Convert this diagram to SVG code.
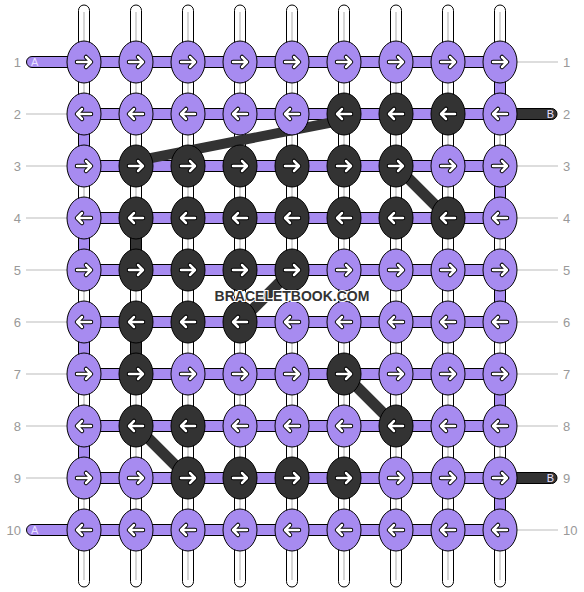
<svg xmlns="http://www.w3.org/2000/svg" xmlns:xlink="http://www.w3.org/1999/xlink" width="584" height="592" viewBox="0 0 584 592">
<style>
.thr{fill:#fff;stroke:#000;stroke-width:1}
.mid{stroke:#c8c8c8;stroke-width:1.5}
.p{fill:#A78BF0;stroke:#000;stroke-width:1}
.d{fill:#333;stroke:#000;stroke-width:1}
.hc{fill:#A78BF0;stroke:#000;stroke-width:1}
.diag{stroke:#333;stroke-width:11;stroke-linecap:butt}
.lbl{font-family:"Liberation Sans",Arial,sans-serif;font-size:13px;fill:#999}
.ln{stroke:#bbb;stroke-width:1}
.tl{font-family:"Liberation Sans",Arial,sans-serif;font-size:11px;fill:#e8e0ff}
.wm{font-family:"Liberation Sans",Arial,sans-serif;font-size:14px;font-weight:bold;fill:#333;stroke:#fff;stroke-width:2;paint-order:stroke;text-anchor:middle}
</style>
<defs>
<g id="R"><path d="M-7,0H6M2,-5L7,0L2,5" fill="none" stroke="#000" stroke-width="4.5" stroke-linecap="round" stroke-linejoin="round"/><path d="M-7,0H6M2,-5L7,0L2,5" fill="none" stroke="#fff" stroke-width="2.5" stroke-linecap="round" stroke-linejoin="round"/></g>
<g id="L"><use href="#R" transform="scale(-1,1)"/></g>
</defs>
<g id="threads">
<rect class="thr" x="78.5" y="5" width="11" height="582" rx="5.5"/><line class="mid" x1="84" y1="12" x2="84" y2="580"/>
<rect class="thr" x="130.5" y="5" width="11" height="582" rx="5.5"/><line class="mid" x1="136" y1="12" x2="136" y2="580"/>
<rect class="thr" x="182.5" y="5" width="11" height="582" rx="5.5"/><line class="mid" x1="188" y1="12" x2="188" y2="580"/>
<rect class="thr" x="234.5" y="5" width="11" height="582" rx="5.5"/><line class="mid" x1="240" y1="12" x2="240" y2="580"/>
<rect class="thr" x="286.5" y="5" width="11" height="582" rx="5.5"/><line class="mid" x1="292" y1="12" x2="292" y2="580"/>
<rect class="thr" x="338.5" y="5" width="11" height="582" rx="5.5"/><line class="mid" x1="344" y1="12" x2="344" y2="580"/>
<rect class="thr" x="390.5" y="5" width="11" height="582" rx="5.5"/><line class="mid" x1="396" y1="12" x2="396" y2="580"/>
<rect class="thr" x="442.5" y="5" width="11" height="582" rx="5.5"/><line class="mid" x1="448" y1="12" x2="448" y2="580"/>
<rect class="thr" x="494.5" y="5" width="11" height="582" rx="5.5"/><line class="mid" x1="500" y1="12" x2="500" y2="580"/>
</g>
<g id="labels">
<text class="lbl" x="21" y="66.5" text-anchor="end">1</text>
<text class="lbl" x="21" y="118.5" text-anchor="end">2</text>
<text class="lbl" x="21" y="170.5" text-anchor="end">3</text>
<text class="lbl" x="21" y="222.5" text-anchor="end">4</text>
<text class="lbl" x="21" y="274.5" text-anchor="end">5</text>
<text class="lbl" x="21" y="326.5" text-anchor="end">6</text>
<text class="lbl" x="21" y="378.5" text-anchor="end">7</text>
<text class="lbl" x="21" y="430.5" text-anchor="end">8</text>
<text class="lbl" x="21" y="482.5" text-anchor="end">9</text>
<text class="lbl" x="21" y="534.5" text-anchor="end">10</text>
<text class="lbl" x="563" y="66.5">1</text>
<text class="lbl" x="563" y="118.5">2</text>
<text class="lbl" x="563" y="170.5">3</text>
<text class="lbl" x="563" y="222.5">4</text>
<text class="lbl" x="563" y="274.5">5</text>
<text class="lbl" x="563" y="326.5">6</text>
<text class="lbl" x="563" y="378.5">7</text>
<text class="lbl" x="563" y="430.5">8</text>
<text class="lbl" x="563" y="482.5">9</text>
<text class="lbl" x="563" y="534.5">10</text>
<line class="ln" x1="26" y1="114" x2="67" y2="114"/>
<line class="ln" x1="26" y1="166" x2="67" y2="166"/>
<line class="ln" x1="26" y1="218" x2="67" y2="218"/>
<line class="ln" x1="26" y1="270" x2="67" y2="270"/>
<line class="ln" x1="26" y1="322" x2="67" y2="322"/>
<line class="ln" x1="26" y1="374" x2="67" y2="374"/>
<line class="ln" x1="26" y1="426" x2="67" y2="426"/>
<line class="ln" x1="26" y1="478" x2="67" y2="478"/>
<line class="ln" x1="517" y1="62" x2="558" y2="62"/>
<line class="ln" x1="517" y1="166" x2="558" y2="166"/>
<line class="ln" x1="517" y1="218" x2="558" y2="218"/>
<line class="ln" x1="517" y1="270" x2="558" y2="270"/>
<line class="ln" x1="517" y1="322" x2="558" y2="322"/>
<line class="ln" x1="517" y1="374" x2="558" y2="374"/>
<line class="ln" x1="517" y1="426" x2="558" y2="426"/>
<line class="ln" x1="517" y1="530" x2="558" y2="530"/>
</g>
<g id="connectors">
<rect class="p" x="78.5" y="132" width="11" height="16"/>
<rect class="p" x="78.5" y="236" width="11" height="16"/>
<rect class="p" x="78.5" y="340" width="11" height="16"/>
<rect class="p" x="78.5" y="444" width="11" height="16"/>
<rect class="p" x="494.5" y="80" width="11" height="16"/>
<rect class="p" x="494.5" y="184" width="11" height="16"/>
<rect class="p" x="494.5" y="288" width="11" height="16"/>
<rect class="p" x="494.5" y="392" width="11" height="16"/>
<rect class="p" x="494.5" y="496" width="11" height="16"/>
<rect class="d" x="130.5" y="236" width="11" height="16"/>
<rect class="d" x="130.5" y="340" width="11" height="16"/>
<rect class="d" x="480" y="108.5" width="77" height="11" rx="5.5"/>
<rect class="d" x="480" y="472.5" width="77" height="11" rx="5.5"/>
<rect class="hc" x="26.5" y="56.5" width="480" height="11" rx="5.5"/>
<rect class="hc" x="84" y="108.5" width="416" height="11"/>
<rect class="hc" x="84" y="160.5" width="416" height="11"/>
<rect class="hc" x="84" y="212.5" width="416" height="11"/>
<rect class="hc" x="84" y="264.5" width="416" height="11"/>
<rect class="hc" x="84" y="316.5" width="416" height="11"/>
<rect class="hc" x="84" y="368.5" width="416" height="11"/>
<rect class="hc" x="84" y="420.5" width="416" height="11"/>
<rect class="hc" x="84" y="472.5" width="416" height="11"/>
<rect class="hc" x="26.5" y="524.5" width="480" height="11" rx="5.5"/>
<text class="tl" x="31" y="66">A</text>
<text class="tl" x="31" y="534">A</text>
<text class="tl" x="554" y="118" text-anchor="end">B</text>
<text class="tl" x="554" y="482" text-anchor="end">B</text>
<line class="diag" style="stroke-width:10" x1="136" y1="161" x2="344" y2="120"/>
<line class="diag" x1="396" y1="166" x2="448" y2="218"/>
<line class="diag" x1="292" y1="270" x2="240" y2="322"/>
<line class="diag" x1="344" y1="374" x2="396" y2="426"/>
<line class="diag" x1="136" y1="426" x2="188" y2="478"/>
</g>
<g id="knots">
<g id="k1_1" transform="translate(84,62)"><ellipse class="p" rx="17" ry="21"/><use href="#R"/></g>
<g id="k1_2" transform="translate(136,62)"><ellipse class="p" rx="17" ry="21"/><use href="#R"/></g>
<g id="k1_3" transform="translate(188,62)"><ellipse class="p" rx="17" ry="21"/><use href="#R"/></g>
<g id="k1_4" transform="translate(240,62)"><ellipse class="p" rx="17" ry="21"/><use href="#R"/></g>
<g id="k1_5" transform="translate(292,62)"><ellipse class="p" rx="17" ry="21"/><use href="#R"/></g>
<g id="k1_6" transform="translate(344,62)"><ellipse class="p" rx="17" ry="21"/><use href="#R"/></g>
<g id="k1_7" transform="translate(396,62)"><ellipse class="p" rx="17" ry="21"/><use href="#R"/></g>
<g id="k1_8" transform="translate(448,62)"><ellipse class="p" rx="17" ry="21"/><use href="#R"/></g>
<g id="k1_9" transform="translate(500,62)"><ellipse class="p" rx="17" ry="21"/><use href="#R"/></g>
<g id="k2_1" transform="translate(84,114)"><ellipse class="p" rx="17" ry="21"/><use href="#L"/></g>
<g id="k2_2" transform="translate(136,114)"><ellipse class="p" rx="17" ry="21"/><use href="#L"/></g>
<g id="k2_3" transform="translate(188,114)"><ellipse class="p" rx="17" ry="21"/><use href="#L"/></g>
<g id="k2_4" transform="translate(240,114)"><ellipse class="p" rx="17" ry="21"/><use href="#L"/></g>
<g id="k2_5" transform="translate(292,114)"><ellipse class="p" rx="17" ry="21"/><use href="#L"/></g>
<g id="k2_6" transform="translate(344,114)"><ellipse class="d" rx="17" ry="21"/><use href="#L"/></g>
<g id="k2_7" transform="translate(396,114)"><ellipse class="d" rx="17" ry="21"/><use href="#L"/></g>
<g id="k2_8" transform="translate(448,114)"><ellipse class="d" rx="17" ry="21"/><use href="#L"/></g>
<g id="k2_9" transform="translate(500,114)"><ellipse class="p" rx="17" ry="21"/><use href="#L"/></g>
<g id="k3_1" transform="translate(84,166)"><ellipse class="p" rx="17" ry="21"/><use href="#R"/></g>
<g id="k3_2" transform="translate(136,166)"><ellipse class="d" rx="17" ry="21"/><use href="#R"/></g>
<g id="k3_3" transform="translate(188,166)"><ellipse class="d" rx="17" ry="21"/><use href="#R"/></g>
<g id="k3_4" transform="translate(240,166)"><ellipse class="d" rx="17" ry="21"/><use href="#R"/></g>
<g id="k3_5" transform="translate(292,166)"><ellipse class="d" rx="17" ry="21"/><use href="#R"/></g>
<g id="k3_6" transform="translate(344,166)"><ellipse class="d" rx="17" ry="21"/><use href="#R"/></g>
<g id="k3_7" transform="translate(396,166)"><ellipse class="d" rx="17" ry="21"/><use href="#R"/></g>
<g id="k3_8" transform="translate(448,166)"><ellipse class="p" rx="17" ry="21"/><use href="#R"/></g>
<g id="k3_9" transform="translate(500,166)"><ellipse class="p" rx="17" ry="21"/><use href="#R"/></g>
<g id="k4_1" transform="translate(84,218)"><ellipse class="p" rx="17" ry="21"/><use href="#L"/></g>
<g id="k4_2" transform="translate(136,218)"><ellipse class="d" rx="17" ry="21"/><use href="#L"/></g>
<g id="k4_3" transform="translate(188,218)"><ellipse class="d" rx="17" ry="21"/><use href="#L"/></g>
<g id="k4_4" transform="translate(240,218)"><ellipse class="d" rx="17" ry="21"/><use href="#L"/></g>
<g id="k4_5" transform="translate(292,218)"><ellipse class="d" rx="17" ry="21"/><use href="#L"/></g>
<g id="k4_6" transform="translate(344,218)"><ellipse class="d" rx="17" ry="21"/><use href="#L"/></g>
<g id="k4_7" transform="translate(396,218)"><ellipse class="d" rx="17" ry="21"/><use href="#L"/></g>
<g id="k4_8" transform="translate(448,218)"><ellipse class="d" rx="17" ry="21"/><use href="#L"/></g>
<g id="k4_9" transform="translate(500,218)"><ellipse class="p" rx="17" ry="21"/><use href="#L"/></g>
<g id="k5_1" transform="translate(84,270)"><ellipse class="p" rx="17" ry="21"/><use href="#R"/></g>
<g id="k5_2" transform="translate(136,270)"><ellipse class="d" rx="17" ry="21"/><use href="#R"/></g>
<g id="k5_3" transform="translate(188,270)"><ellipse class="d" rx="17" ry="21"/><use href="#R"/></g>
<g id="k5_4" transform="translate(240,270)"><ellipse class="d" rx="17" ry="21"/><use href="#R"/></g>
<g id="k5_5" transform="translate(292,270)"><ellipse class="d" rx="17" ry="21"/><use href="#R"/></g>
<g id="k5_6" transform="translate(344,270)"><ellipse class="p" rx="17" ry="21"/><use href="#R"/></g>
<g id="k5_7" transform="translate(396,270)"><ellipse class="p" rx="17" ry="21"/><use href="#R"/></g>
<g id="k5_8" transform="translate(448,270)"><ellipse class="p" rx="17" ry="21"/><use href="#R"/></g>
<g id="k5_9" transform="translate(500,270)"><ellipse class="p" rx="17" ry="21"/><use href="#R"/></g>
<g id="k6_1" transform="translate(84,322)"><ellipse class="p" rx="17" ry="21"/><use href="#L"/></g>
<g id="k6_2" transform="translate(136,322)"><ellipse class="d" rx="17" ry="21"/><use href="#L"/></g>
<g id="k6_3" transform="translate(188,322)"><ellipse class="d" rx="17" ry="21"/><use href="#L"/></g>
<g id="k6_4" transform="translate(240,322)"><ellipse class="d" rx="17" ry="21"/><use href="#L"/></g>
<g id="k6_5" transform="translate(292,322)"><ellipse class="p" rx="17" ry="21"/><use href="#L"/></g>
<g id="k6_6" transform="translate(344,322)"><ellipse class="p" rx="17" ry="21"/><use href="#L"/></g>
<g id="k6_7" transform="translate(396,322)"><ellipse class="p" rx="17" ry="21"/><use href="#L"/></g>
<g id="k6_8" transform="translate(448,322)"><ellipse class="p" rx="17" ry="21"/><use href="#L"/></g>
<g id="k6_9" transform="translate(500,322)"><ellipse class="p" rx="17" ry="21"/><use href="#L"/></g>
<g id="k7_1" transform="translate(84,374)"><ellipse class="p" rx="17" ry="21"/><use href="#R"/></g>
<g id="k7_2" transform="translate(136,374)"><ellipse class="d" rx="17" ry="21"/><use href="#R"/></g>
<g id="k7_3" transform="translate(188,374)"><ellipse class="p" rx="17" ry="21"/><use href="#R"/></g>
<g id="k7_4" transform="translate(240,374)"><ellipse class="p" rx="17" ry="21"/><use href="#R"/></g>
<g id="k7_5" transform="translate(292,374)"><ellipse class="p" rx="17" ry="21"/><use href="#R"/></g>
<g id="k7_6" transform="translate(344,374)"><ellipse class="d" rx="17" ry="21"/><use href="#R"/></g>
<g id="k7_7" transform="translate(396,374)"><ellipse class="p" rx="17" ry="21"/><use href="#R"/></g>
<g id="k7_8" transform="translate(448,374)"><ellipse class="p" rx="17" ry="21"/><use href="#R"/></g>
<g id="k7_9" transform="translate(500,374)"><ellipse class="p" rx="17" ry="21"/><use href="#R"/></g>
<g id="k8_1" transform="translate(84,426)"><ellipse class="p" rx="17" ry="21"/><use href="#L"/></g>
<g id="k8_2" transform="translate(136,426)"><ellipse class="d" rx="17" ry="21"/><use href="#L"/></g>
<g id="k8_3" transform="translate(188,426)"><ellipse class="d" rx="17" ry="21"/><use href="#L"/></g>
<g id="k8_4" transform="translate(240,426)"><ellipse class="p" rx="17" ry="21"/><use href="#L"/></g>
<g id="k8_5" transform="translate(292,426)"><ellipse class="p" rx="17" ry="21"/><use href="#L"/></g>
<g id="k8_6" transform="translate(344,426)"><ellipse class="p" rx="17" ry="21"/><use href="#L"/></g>
<g id="k8_7" transform="translate(396,426)"><ellipse class="d" rx="17" ry="21"/><use href="#L"/></g>
<g id="k8_8" transform="translate(448,426)"><ellipse class="p" rx="17" ry="21"/><use href="#L"/></g>
<g id="k8_9" transform="translate(500,426)"><ellipse class="p" rx="17" ry="21"/><use href="#L"/></g>
<g id="k9_1" transform="translate(84,478)"><ellipse class="p" rx="17" ry="21"/><use href="#R"/></g>
<g id="k9_2" transform="translate(136,478)"><ellipse class="p" rx="17" ry="21"/><use href="#R"/></g>
<g id="k9_3" transform="translate(188,478)"><ellipse class="d" rx="17" ry="21"/><use href="#R"/></g>
<g id="k9_4" transform="translate(240,478)"><ellipse class="d" rx="17" ry="21"/><use href="#R"/></g>
<g id="k9_5" transform="translate(292,478)"><ellipse class="d" rx="17" ry="21"/><use href="#R"/></g>
<g id="k9_6" transform="translate(344,478)"><ellipse class="d" rx="17" ry="21"/><use href="#R"/></g>
<g id="k9_7" transform="translate(396,478)"><ellipse class="p" rx="17" ry="21"/><use href="#R"/></g>
<g id="k9_8" transform="translate(448,478)"><ellipse class="p" rx="17" ry="21"/><use href="#R"/></g>
<g id="k9_9" transform="translate(500,478)"><ellipse class="p" rx="17" ry="21"/><use href="#R"/></g>
<g id="k10_1" transform="translate(84,530)"><ellipse class="p" rx="17" ry="21"/><use href="#L"/></g>
<g id="k10_2" transform="translate(136,530)"><ellipse class="p" rx="17" ry="21"/><use href="#L"/></g>
<g id="k10_3" transform="translate(188,530)"><ellipse class="p" rx="17" ry="21"/><use href="#L"/></g>
<g id="k10_4" transform="translate(240,530)"><ellipse class="p" rx="17" ry="21"/><use href="#L"/></g>
<g id="k10_5" transform="translate(292,530)"><ellipse class="p" rx="17" ry="21"/><use href="#L"/></g>
<g id="k10_6" transform="translate(344,530)"><ellipse class="p" rx="17" ry="21"/><use href="#L"/></g>
<g id="k10_7" transform="translate(396,530)"><ellipse class="p" rx="17" ry="21"/><use href="#L"/></g>
<g id="k10_8" transform="translate(448,530)"><ellipse class="p" rx="17" ry="21"/><use href="#L"/></g>
<g id="k10_9" transform="translate(500,530)"><ellipse class="p" rx="17" ry="21"/><use href="#L"/></g>
</g>
<text class="wm" x="292" y="301">BRACELETBOOK.COM</text>
</svg>
